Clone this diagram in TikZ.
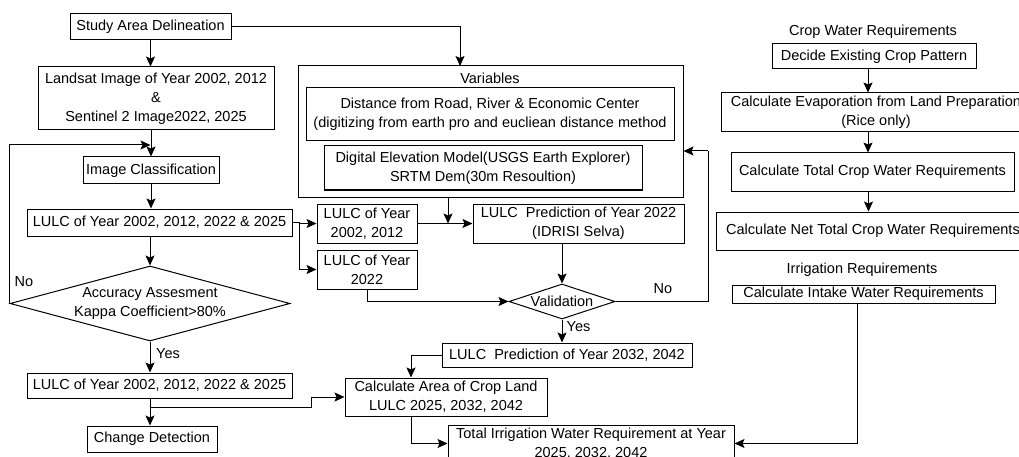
\documentclass[tikz,border=0pt]{standalone}
\usepackage{fontspec}
\setmainfont{Liberation Sans}
\usetikzlibrary{arrows.meta,shapes.geometric,calc}
\begin{document}
\begin{tikzpicture}[x=1pt,y=-1pt,
  every node/.style={font=\fontsize{14.5}{19}\selectfont},
  box/.style={draw, line width=1pt, align=center, inner sep=0pt},
  dia/.style={draw, line width=1pt, diamond, inner sep=0pt},
  lbl/.style={inner sep=0pt},
  arr/.style={line width=1pt, -{Stealth[length=10pt,width=9pt,inset=2pt]}},
  ln/.style={line width=1pt}]
\clip (0,0) rectangle (1019,457);
\fill[white] (0,0) rectangle (1019,457);
% left column
\node[box, minimum width=161pt, minimum height=26pt] (sad) at (150.5,27) {Study Area Delineation};
\node[box, minimum width=236pt, minimum height=63pt] (landsat) at (156,98.5) {Landsat Image of Year 2002, 2012\\\&\\Sentinel 2 Image2022, 2025};
\node[box, minimum width=136pt, minimum height=27pt] (ic) at (151,170.5) {Image Classification};
\node[box, minimum width=265pt, minimum height=27pt] (lulc1) at (159.5,222.5) {LULC of Year 2002, 2012, 2022 \& 2025};
\node[dia, minimum width=280pt, minimum height=75pt] (acc) at (150,303.5) {};
\node[lbl, align=center] (acct) at (acc) {Accuracy Assesment\\Kappa Coefficient>80\%};
\node[lbl] (no1) at (24,282) {No};
\node[lbl] (yes1) at (168,354) {Yes};
\node[box, minimum width=265pt, minimum height=25pt] (lulc2) at (159.5,385.5) {LULC of Year 2002, 2012, 2022 \& 2025};
\node[box, minimum width=130pt, minimum height=26pt] (cd) at (152,439) {Change Detection};
% middle
\node[box, minimum width=385pt, minimum height=131pt] (vars) at (490.5,131.5) {};
\node[lbl] (varst) at (490,78) {Variables};
\node[box, minimum width=368pt, minimum height=53pt] (v1) at (490,114.5) {Distance from Road, River \& Economic Center\\(digitizing from earth pro and eucliean distance method};
\node[box, minimum width=318pt, minimum height=44pt] (v2) at (483,168) {Digital Elevation Model(USGS Earth Explorer)\\SRTM Dem(30m Resoultion)};
\node[box, minimum width=100pt, minimum height=39pt] (l0212) at (367,223.5) {LULC of Year\\2002, 2012};
\node[box, minimum width=100pt, minimum height=39pt] (l22) at (367,269.5) {LULC of Year\\2022};
\node[box, minimum width=211pt, minimum height=39pt] (pred22) at (578.5,223.5) {LULC\ \ Prediction of Year 2022\\(IDRISI Selva)};
\node[dia, minimum width=106pt, minimum height=35pt] (valid) at (562,301.5) {};
\node[lbl] (validt) at (valid) {Validation};
\node[lbl] (no2) at (663,289) {No};
\node[lbl] (yes2) at (578.5,327) {Yes};
\node[box, minimum width=250pt, minimum height=24pt] (pred32) at (567,355) {LULC\ \ Prediction of Year 2032, 2042};
\node[box, minimum width=202pt, minimum height=38pt] (calc) at (446,397) {Calculate Area of Crop Land\\LULC 2025, 2032, 2042};
\node[box, minimum width=286pt, minimum height=37pt] (total) at (591,443.5) {Total Irrigation Water Requirement at Year\\2025, 2032, 2042};
% right column
\node[lbl] (cwr) at (873,32) {Crop Water Requirements};
\node[box, minimum width=204pt, minimum height=25pt] (dec) at (874,56.5) {Decide Existing Crop Pattern};
\node[box, minimum width=310pt, minimum height=39pt] (evap) at (876,112.5) {Calculate Evaporation from Land Preparation\\(Rice only)};
\node[box, minimum width=283pt, minimum height=38pt] (tcwr) at (872.5,172) {Calculate Total Crop Water Requirements};
\node[box, minimum width=314pt, minimum height=38pt] (net) at (873,231) {Calculate Net Total Crop Water Requirements};
\node[lbl] (irr) at (862,270) {Irrigation Requirements};
\node[box, minimum width=263pt, minimum height=18pt] (intake) at (863.5,294) {Calculate Intake Water Requirements};
% coordinates
\coordinate (fb) at (150.5,145);
\coordinate (vt) at (460,66);
\coordinate (jv) at (448,223.5);
\coordinate (nr) at (708,151);
\coordinate (j1) at (150.5,407);
% connectors left
\draw[arr] (sad.south) -- (sad.south |- landsat.north);
\draw[arr] (ic.north |- landsat.south) -- (ic.north);
\draw[arr] (acc.west) |- (fb);
\draw[arr] (ic.south) -- (ic.south |- lulc1.north);
\draw[arr] (lulc1.south -| acc.north) -- (acc.north);
\draw[arr] (acc.south) -- (acc.south |- lulc2.north);
\draw[arr] (lulc2.south -| acc.south) -- (cd.north -| acc.south);
\draw[arr] (j1) -- ++(161,0) |- (calc.west);
% middle
\draw[arr] (sad.east) -| (vt);
\draw[arr] (lulc1.east) -- ++(7,0) |- (l0212.west);
\draw[arr] (lulc1.east) -- ++(7,0) |- (l22.west);
\draw[arr] (l0212.east) -- (pred22.west);
\draw[arr] (vars.south -| jv) -- (jv);
\draw[arr] (valid.north |- pred22.south) -- (valid.north);
\draw[arr] (l22.south) |- (valid.west);
\draw[ln] (valid.east) -| (nr);
\draw[arr] (nr) -- (vars.east |- nr);
\draw[arr] (valid.south) -- (valid.south |- pred32.north);
\draw[arr] (pred32.west) -| ([xshift=-35pt]calc.north);
\draw[arr] ([xshift=-35pt]calc.south) |- (total.west);
% right
\draw[arr] ([xshift=-6pt]dec.south) -- ([xshift=-6pt]dec.south |- evap.north);
\draw[arr] ([xshift=-8pt]evap.south) -- ([xshift=-8pt]evap.south |- tcwr.north);
\draw[arr] ([xshift=-4pt]tcwr.south) -- ([xshift=-4pt]tcwr.south |- net.north);
\draw[arr] ([xshift=-6.5pt]intake.south) |- (total.east);
\end{tikzpicture}
\end{document}
